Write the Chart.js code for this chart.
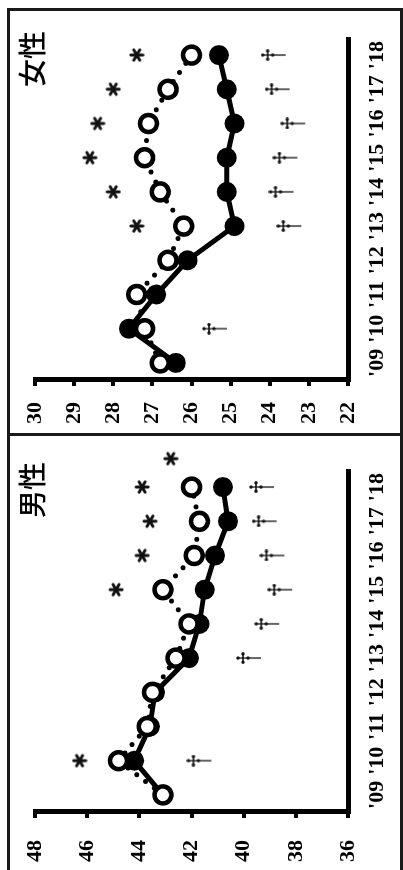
<!DOCTYPE html>
<html>
<head>
<meta charset="utf-8">
<script src="https://cdn.jsdelivr.net/npm/chart.js@4.4.1/dist/chart.umd.min.js"></script>
<style>
  html, body { margin: 0; padding: 0; background: #fff; overflow: hidden; }
  body { width: 403px; height: 870px; position: relative; }
  /* the chart is drawn landscape and turned a quarter turn to the left */
  #stage { position: absolute; left: 0; top: 0; width: 870px; height: 403px;
           transform-origin: 0 0; transform: translateY(870px) rotate(-90deg); }
  .panel { position: absolute; top: 0; width: 435px; height: 403px; }
  .title { position: absolute; top: 14px; font-family: "Noto Sans CJK JP", sans-serif;
           font-weight: 500; font-size: 28px; line-height: 34px; color: #000; }
  .hline { position: absolute; left: 0; width: 861px; height: 3px; background: #1a1a1a; }
  .vline { position: absolute; top: 7px; width: 3px; height: 396px; background: #1a1a1a; }
</style>
</head>
<body>
<div id="stage">
  <div class="panel" style="left:0"><canvas id="male-chart" width="435" height="403"></canvas>
    <div class="title" style="left:352px">男性</div></div>
  <div class="panel" style="left:435px"><canvas id="female-chart" width="435" height="403"></canvas>
    <div class="title" style="left:348px">女性</div></div>
  <div class="hline" style="top:7px"></div>
  <div class="hline" style="top:400px"></div>
  <div class="vline" style="left:434px"></div>
  <div class="vline" style="left:859px"></div>
</div>
<script>
const years = ["'09", "'10", "'11", "'12", "'13", "'14", "'15", "'16", "'17", "'18"];

// 男性
const maleFilled = [43.1, 44.2, 43.6, 43.4, 42.1, 41.7, 41.5, 41.1, 40.6, 40.8];
const maleOpen   = [43.1, 44.8, 43.7, 43.5, 42.6, 42.1, 43.1, 41.9, 41.7, 42.0];
const maleStar   = [null, 46.3, null, null, null, null, 44.9, 43.9, 43.6, 43.9];
const maleDagger = [null, 41.7, null, null, 39.8, 39.1, 38.6, 38.9, 39.2, 39.3];
const maleStrayStarX = [9.83];
const maleStrayStarY = [42.8];
const maleTicks = [36, 38, 40, 42, 44, 46, 48];

// 女性
const femaleFilled = [26.4, 27.6, 26.9, 26.1, 24.9, 25.1, 25.1, 24.9, 25.1, 25.3];
const femaleOpen   = [26.8, 27.2, 27.4, 26.6, 26.2, 26.8, 27.2, 27.1, 26.6, 26.0];
const femaleStar   = [null, null, null, null, 27.4, 28.0, 28.6, 28.4, 28.0, 27.4];
const femaleDagger = [null, 25.4, null, null, 23.5, 23.7, 23.6, 23.4, 23.8, 23.9];
const femaleTicks = [22, 23, 24, 25, 26, 27, 28, 29, 30];

Chart.defaults.animation = false;
Chart.defaults.font.family = '"Liberation Serif", "Times New Roman", serif';
Chart.defaults.color = '#000';

// small glyph images used as point styles
function makeStar() {
    const c = document.createElement('canvas');
    c.width = 16; c.height = 16;
    const g = c.getContext('2d');
    g.strokeStyle = '#111'; g.lineWidth = 3; g.lineCap = 'round';
    for (let k = 0; k < 3; k++) {
        const a = Math.PI / 2 + k * Math.PI / 3;
        g.beginPath();
        g.moveTo(8 + 6 * Math.cos(a), 8 + 6 * Math.sin(a));
        g.lineTo(8 - 6 * Math.cos(a), 8 - 6 * Math.sin(a));
        g.stroke();
    }
    return c;
}
function makeDagger() {
    const c = document.createElement('canvas');
    c.width = 12; c.height = 26;
    const g = c.getContext('2d');
    g.fillStyle = g.strokeStyle = '#111';
    g.lineWidth = 1.3;
    g.beginPath(); g.moveTo(6, 2); g.lineTo(6, 25); g.stroke();
    g.lineWidth = 1.6;
    g.beginPath(); g.moveTo(1.5, 7); g.lineTo(10.5, 7); g.stroke();
    [[6, 2], [1.8, 7], [10.2, 7], [6, 12]].forEach(([x, y]) => {
        g.beginPath(); g.arc(x, y, 1.7, 0, Math.PI * 2); g.fill();
    });
    return c;
}
const starImg = makeStar();
const daggerImg = makeDagger();

const toXY = arr => arr.map((v, i) => (v === null ? null : { x: i, y: v })).filter(p => p);

// the lone asterisk beyond '18 in the male panel lies outside the chart area,
// where point elements are not drawn, so place it here through the scales
const strayStars = {
    id: 'strayStars',
    afterDatasetsDraw(chart) {
        const { ctx, scales: { x, y } } = chart;
        maleStrayStarX.forEach((v, i) => {
            const px = x.getPixelForValue(v), py = y.getPixelForValue(maleStrayStarY[i]);
            ctx.drawImage(starImg, px - starImg.width / 2, py - starImg.height / 2);
        });
    },
};

function buildChart(id, filled, open, star, dagger, ticks, labelPad, padRight, plugins) {
    const datasets = [
        { data: toXY(star), showLine: false, pointStyle: starImg, order: 0 },
        { data: toXY(dagger), showLine: false, pointStyle: daggerImg, order: 0 },
        {
            data: toXY(open), showLine: true, borderColor: '#000', borderWidth: 5, borderDash: [0, 11],
            borderCapStyle: 'round', pointRadius: 8.5, pointBorderWidth: 4.5,
            pointBackgroundColor: '#fff', pointBorderColor: '#000', order: 1,
        },
        {
            data: toXY(filled), showLine: true, borderColor: '#000', borderWidth: 5,
            pointRadius: 10, pointBorderWidth: 0, pointBackgroundColor: '#000', order: 2,
        },
    ];
    return new Chart(document.getElementById(id), {
        type: 'scatter',
        data: { datasets },
        plugins: plugins || [],
        options: {
            responsive: false,
            layout: { padding: { top: 35, right: padRight, bottom: 0, left: 0 } },
            plugins: { legend: { display: false }, tooltip: { enabled: false } },
            scales: {
                x: {
                    type: 'linear', min: -0.5, max: 9.5,
                    grid: { display: false },
                    border: { display: true, color: '#000', width: 5 },
                    ticks: { font: { size: 22, weight: 'bold' }, padding: 8, callback: v => years[v] },
                    afterBuildTicks: s => { s.ticks = years.map((_, i) => ({ value: i })); },
                    afterFit: s => { s.height = 55; },
                },
                y: {
                    min: ticks[0], max: ticks[ticks.length - 1],
                    grid: { drawOnChartArea: false, drawTicks: true, tickLength: 6, lineWidth: 4, color: '#000' },
                    border: { display: true, color: '#000', width: 5 },
                    ticks: { font: { size: 22, weight: 'bold' }, padding: labelPad },
                    afterBuildTicks: s => { s.ticks = ticks.map(v => ({ value: v })); },
                    afterFit: s => { s.width = id === 'male-chart' ? 58 : 55; },
                },
            },
        },
    });
}

buildChart('male-chart', maleFilled, maleOpen, maleStar, maleDagger, maleTicks, 22, 35, [strayStars]);
buildChart('female-chart', femaleFilled, femaleOpen, femaleStar, femaleDagger, femaleTicks, 16, 38);
</script>
</body>
</html>
